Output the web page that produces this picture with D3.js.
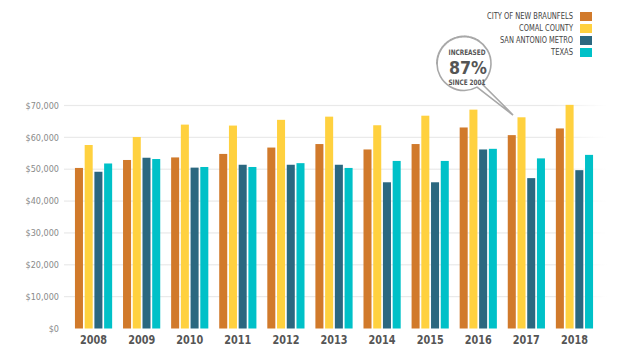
<!DOCTYPE html>
<html><head><meta charset="utf-8">
<script src="https://cdn.jsdelivr.net/npm/d3@7"></script>
<style>
body{margin:0;background:#fff;}
svg{display:block;}
text{font-family:"DejaVu Sans Condensed","Liberation Sans Narrow","Roboto",sans-serif;}
</style></head>
<body>
<svg id="c" width="640" height="360"></svg>
<script>
const years = ["2008","2009","2010","2011","2012","2013","2014","2015","2016","2017","2018"];
const seriesNames = ["CITY OF NEW BRAUNFELS","COMAL COUNTY","SAN ANTONIO METRO","TEXAS"];
const colors = ["#D17A2B","#FFD13F","#2B6880","#00C1C8"];
const newBraunfels = [50400,52900,53700,54800,56800,57900,56200,57900,63100,60700,62800];
const comalCounty  = [57600,60100,64000,63700,65500,66500,63800,66800,68700,66300,70200];
const sanAntonio   = [49200,53600,50500,51400,51400,51400,45900,45900,56200,47200,49700];
const texas        = [51800,53200,50700,50700,51900,50400,52600,52600,56400,53400,54500];
const yTicks = [0,10000,20000,30000,40000,50000,60000,70000];
const calloutLines = ["INCREASED","87%","SINCE 2001"];

const seriesVals = [newBraunfels, comalCounty, sanAntonio, texas];
const svg = d3.select("#c");
const y = d3.scaleLinear().domain([0,70000]).range([328.5,105.5]);
const x = d3.scaleBand().domain(years).range([69.5,598.5]).padding(0);
const xs = d3.scaleBand().domain(seriesNames).range([-18.6,18.6]).paddingInner(0.175).paddingOuter(0);

// gridlines
const grad = svg.append("defs").append("linearGradient").attr("id","gfade").attr("x1","0").attr("x2","1");
grad.append("stop").attr("offset","0").attr("stop-color","#e9e9e9");
grad.append("stop").attr("offset","0.9").attr("stop-color","#e9e9e9");
grad.append("stop").attr("offset","1").attr("stop-color","#fff");
svg.append("g").selectAll("rect").data(yTicks.filter(d=>d>0)).join("rect")
  .attr("x",64).attr("width",543).attr("y",d=>y(d)-0.6).attr("height",1.2).attr("fill","url(#gfade)");

// y axis labels
svg.append("g").selectAll("text").data(yTicks).join("text")
  .attr("x",59).attr("y",d=>y(d)).attr("dy","0.35em").attr("text-anchor","end")
  .attr("font-size",9).attr("fill","#8a8a8a")
  .text(d=>d3.format("$,")(d));

// bars
const g = svg.append("g");
years.forEach((yr,i)=>{
  seriesNames.forEach((s,j)=>{
    const v = seriesVals[j][i];
    g.append("rect")
      .attr("x",x(yr)+x.bandwidth()/2+xs(s))
      .attr("width",xs.bandwidth())
      .attr("y",y(v))
      .attr("height",y(0)-y(v))
      .attr("fill",colors[j]);
  });
});

// x labels
svg.append("g").selectAll("text").data(years).join("text")
  .attr("x",d=>x(d)+x.bandwidth()/2).attr("y",344).attr("text-anchor","middle")
  .attr("font-size",12).attr("font-weight","bold").attr("fill","#555")
  .attr("textLength",27).attr("lengthAdjust","spacingAndGlyphs")
  .text(d=>d);

// legend
const legendWidths = [86,54,73,22];
const lg = svg.append("g");
seriesNames.forEach((s,j)=>{
  const cy = 16.5 + j*12;
  lg.append("rect").attr("x",580).attr("y",cy-4.5).attr("width",12).attr("height",9).attr("fill",colors[j]);
  lg.append("text").attr("x",573).attr("y",cy).attr("dy","0.35em").attr("text-anchor","end")
    .attr("font-size",8).attr("fill","#444")
    .attr("textLength",legendWidths[j]).attr("lengthAdjust","spacingAndGlyphs").text(s);
});

// callout
const cx = 464, cyc = 63.5, r = 27;
const co = svg.append("g").attr("fill","none").attr("stroke","#a8a8a8");
const arc = d3.arc();
co.append("path").attr("transform",`translate(${cx},${cyc})`)
  .attr("d", arc({innerRadius:r, outerRadius:r, startAngle:Math.PI*0.18, endAngle:Math.PI*1.5}))
  .attr("stroke-width",1.6);
co.append("path").attr("transform",`translate(${cx},${cyc})`)
  .attr("d", arc({innerRadius:r, outerRadius:r, startAngle:-Math.PI*0.5, endAngle:Math.PI*0.18}))
  .attr("stroke-width",2).attr("stroke-dasharray","1.2,2.4").attr("stroke-linecap","round");
const tailA = [cx + r*Math.sin(Math.PI*0.77), cyc - r*Math.cos(Math.PI*0.77)];
const tailB = [cx + r*Math.sin(Math.PI*0.84), cyc - r*Math.cos(Math.PI*0.84)];
co.append("path").attr("d",`M${tailA[0]},${tailA[1]} L513,115 L${tailB[0]},${tailB[1]}`)
  .attr("stroke-width",1.6).attr("stroke-linejoin","miter").attr("fill","#fff");
co.append("path").attr("transform",`translate(${cx},${cyc})`)
  .attr("d", arc({innerRadius:r-0.8, outerRadius:r-0.8, startAngle:Math.PI*0.78, endAngle:Math.PI*0.83}))
  .attr("stroke","#fff").attr("stroke-width",2);

const ct = svg.append("g").attr("text-anchor","middle").attr("font-weight","bold").attr("fill","#555");
ct.append("text").attr("x",cx+3).attr("y",55).attr("font-size",7.5)
  .attr("textLength",37).attr("lengthAdjust","spacingAndGlyphs").text(calloutLines[0]);
ct.append("text").attr("x",cx+4).attr("y",73.5).attr("font-size",17)
  .attr("textLength",38).attr("lengthAdjust","spacingAndGlyphs").text(calloutLines[1]);
ct.append("text").attr("x",cx+3).attr("y",84.5).attr("font-size",7.5)
  .attr("textLength",37).attr("lengthAdjust","spacingAndGlyphs").text(calloutLines[2]);
</script>
</body></html>
